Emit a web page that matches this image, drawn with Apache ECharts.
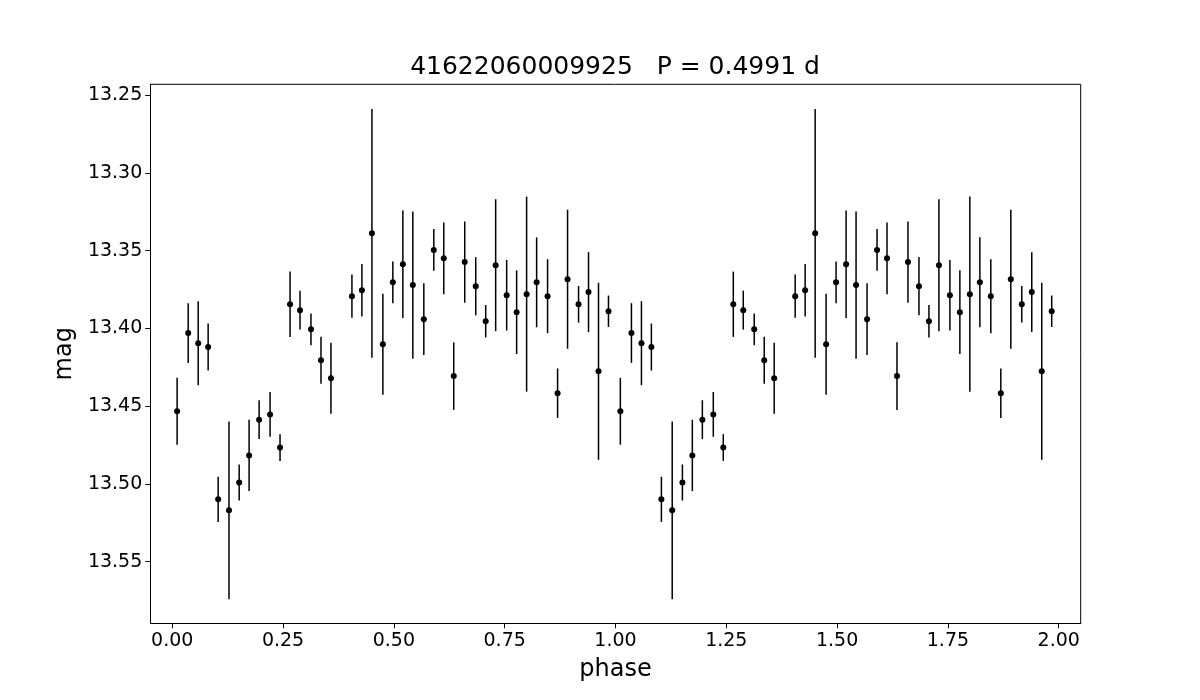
<!DOCTYPE html>
<html>
<head>
<meta charset="utf-8">
<title>41622060009925 phase curve</title>
<script src="https://cdn.jsdelivr.net/npm/echarts@6/dist/echarts.min.js"></script>
<style>
  html, body { margin: 0; padding: 0; background: #fff; }
  #main { width: 1200px; height: 700px; }
</style>
</head>
<body>
<div id="main"></div>
<script>
// folded light curve, one cycle (drawn twice: phase and phase+1)
var phase = [0.011, 0.036, 0.0586, 0.081, 0.1036, 0.128, 0.151, 0.1734, 0.196, 0.2207,
    0.2432, 0.2658, 0.2883, 0.313, 0.3356, 0.3581, 0.4054, 0.4279, 0.4505, 0.4752,
    0.4977, 0.5203, 0.5428, 0.5676, 0.5901, 0.6126, 0.6351, 0.6599, 0.6847, 0.7072,
    0.7297, 0.7545, 0.777, 0.7995, 0.8221, 0.8468, 0.8694, 0.8919, 0.9167, 0.9392,
    0.9617, 0.9842];
var mag = [13.4533, 13.403, 13.4095, 13.412, 13.5099, 13.517, 13.4991, 13.4817, 13.4587, 13.4553,
    13.4766, 13.3845, 13.3883, 13.4006, 13.4205, 13.4321, 13.3793, 13.3755, 13.3389, 13.4102,
    13.3704, 13.3588, 13.3722, 13.3941, 13.3496, 13.355, 13.4307, 13.3574, 13.3729, 13.3954,
    13.3594, 13.3787, 13.3896, 13.378, 13.3704, 13.3793, 13.4417, 13.3684, 13.3845, 13.3767,
    13.4276, 13.389];
var magErr = [0.0215, 0.0192, 0.027, 0.0151, 0.0145, 0.0571, 0.0116, 0.0229, 0.0125, 0.0144,
    0.0086, 0.021, 0.0125, 0.0102, 0.0151, 0.0228, 0.0139, 0.0168, 0.080, 0.0324,
    0.0134, 0.0345, 0.0473, 0.0231, 0.0134, 0.023, 0.0217, 0.0261, 0.0187, 0.0104,
    0.0424, 0.0227, 0.0269, 0.0627, 0.0289, 0.0238, 0.0159, 0.0447, 0.0118, 0.0257,
    0.0569, 0.0101];

var xTicks = [0, 0.25, 0.5, 0.75, 1.0, 1.25, 1.5, 1.75, 2.0];
var yTicks = [13.25, 13.30, 13.35, 13.40, 13.45, 13.50, 13.55];

var titleText = '41622060009925   P = 0.4991 d';

// points + error bars, two cycles
var pts = [];
var bars = [];
for (var c = 0; c < 2; c++) {
    for (var i = 0; i < phase.length; i++) {
        var p = phase[i] + c;
        pts.push([p, mag[i]]);
        bars.push([p, mag[i] - magErr[i], mag[i] + magErr[i]]);
    }
}

var font = 'DejaVu Sans';
var myChart = echarts.init(document.getElementById('main'), null, {renderer: 'canvas'});

var option = {
    animation: false,
    backgroundColor: '#fff',
    title: {
        text: titleText,
        left: 615,
        top: 55,
        textAlign: 'center',
        padding: 0,
        textStyle: {fontFamily: font, fontSize: 25, fontWeight: 'normal', color: '#000'}
    },
    grid: {left: 150.3, right: 119.3, top: 84.3, bottom: 76.7, show: false},
    xAxis: {
        type: 'value',
        min: -0.0495,
        max: 2.0496,
        name: 'phase',
        nameLocation: 'middle',
        nameGap: 34,
        nameTextStyle: {fontFamily: font, fontSize: 24, color: '#000'},
        axisLine: {show: true, onZero: false, lineStyle: {color: '#000', width: 1}},
        axisTick: {show: true, length: 5, customValues: xTicks, lineStyle: {color: '#000'}},
        axisLabel: {
            customValues: xTicks,
            fontFamily: font, fontSize: 19, color: '#000', margin: 8,
            formatter: function (v) { return v.toFixed(2); }
        },
        splitLine: {show: false}
    },
    yAxis: {
        type: 'value',
        inverse: true,
        min: 13.2431,
        max: 13.5896,
        name: 'mag',
        nameLocation: 'middle',
        nameGap: 66,
        nameRotate: 90,
        nameTextStyle: {fontFamily: font, fontSize: 24, color: '#000'},
        axisLine: {show: true, onZero: false, lineStyle: {color: '#000', width: 1}},
        axisTick: {show: true, length: 5, customValues: yTicks, lineStyle: {color: '#000'}},
        axisLabel: {
            customValues: yTicks,
            fontFamily: font, fontSize: 19, color: '#000', margin: 8,
            formatter: function (v) { return v.toFixed(2); }
        },
        splitLine: {show: false}
    },
    series: [
        {
            // error bars, no caps
            type: 'custom',
            data: bars,
            silent: true,
            renderItem: function (params, api) {
                var top = api.coord([api.value(0), api.value(1)]);
                var bot = api.coord([api.value(0), api.value(2)]);
                return {
                    type: 'line',
                    shape: {x1: top[0], y1: top[1], x2: bot[0], y2: bot[1]},
                    style: {stroke: '#000', lineWidth: 1.5}
                };
            },
            z: 2
        },
        {
            type: 'scatter',
            data: pts,
            symbol: 'circle',
            symbolSize: 6,
            itemStyle: {color: '#000', opacity: 1},
            z: 3
        }
    ],
    // frame: top and right spines
    graphic: [
        {type: 'line', shape: {x1: 150.3, y1: 84.3, x2: 1080.7, y2: 84.3}, style: {stroke: '#000', lineWidth: 1}, z: 10},
        {type: 'line', shape: {x1: 1080.7, y1: 84.3, x2: 1080.7, y2: 623.3}, style: {stroke: '#000', lineWidth: 1}, z: 10}
    ]
};

myChart.setOption(option);
</script>
</body>
</html>
